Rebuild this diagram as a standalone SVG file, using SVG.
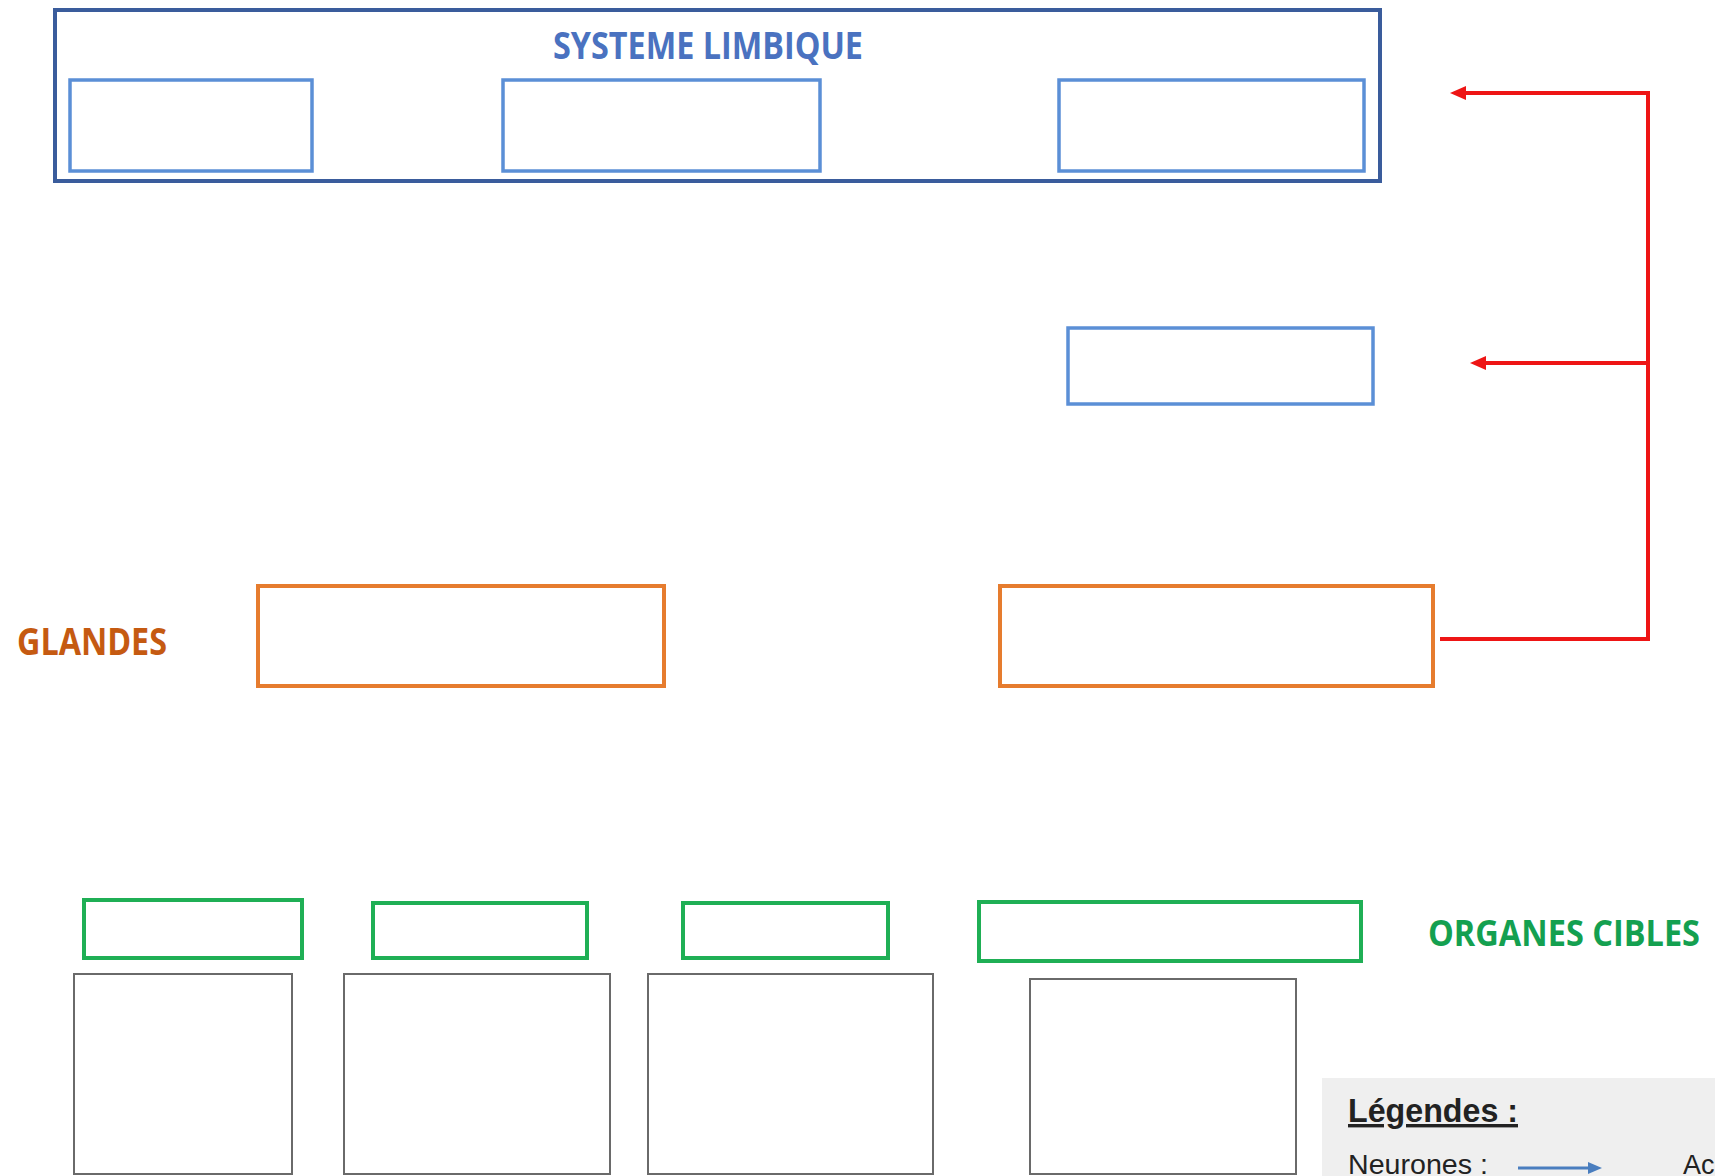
<svg xmlns="http://www.w3.org/2000/svg" width="1715" height="1176" viewBox="0 0 1715 1176">
<defs>
<style>
.outer{fill:none;stroke:#3A5C9C;stroke-width:4}
.blue{fill:none;stroke:#5B8FD6;stroke-width:3.5}
.orange{fill:none;stroke:#E67C2E;stroke-width:4}
.green{fill:none;stroke:#1FAF55;stroke-width:4}
.gray{fill:none;stroke:#6A6A6A;stroke-width:2}
.red{fill:none;stroke:#EE1515;stroke-width:4}
.title{font-family:"Open Sans","Liberation Sans",sans-serif;font-weight:bold}
.leg{font-family:"Liberation Sans",Arial,sans-serif;fill:#222}
</style>
<marker id="redHead" markerUnits="userSpaceOnUse" markerWidth="16" markerHeight="14" refX="0" refY="7" orient="auto" overflow="visible">
<path d="M0,0 L16,7 L0,14 Z" fill="#EE1515"/>
</marker>
<marker id="blueHead" markerUnits="userSpaceOnUse" markerWidth="14" markerHeight="12" refX="0" refY="6" orient="auto" overflow="visible">
<path d="M0,0 L14,6 L0,12 Z" fill="#4A7EBF"/>
</marker>
</defs>
<rect width="1715" height="1176" fill="#FFFFFF"/>

<g id="systeme-limbique">
<rect class="outer" x="55" y="10" width="1325" height="171"/>
<text class="title" x="708" y="59" font-size="38" fill="#4A72C0" text-anchor="middle" textLength="310" lengthAdjust="spacingAndGlyphs">SYSTEME LIMBIQUE</text>
</g>
<g id="limbique-1"><rect class="blue" x="70" y="80" width="242" height="91"/></g>
<g id="limbique-2"><rect class="blue" x="503" y="80" width="317" height="91"/></g>
<g id="limbique-3"><rect class="blue" x="1059" y="80" width="305" height="91"/></g>
<g id="middle-box"><rect class="blue" x="1068" y="328" width="305" height="76"/></g>

<g id="glandes-label"><text class="title" x="17" y="655" font-size="38" fill="#C55A11" textLength="150" lengthAdjust="spacingAndGlyphs">GLANDES</text></g>
<g id="glande-1"><rect class="orange" x="258" y="586" width="406" height="100"/></g>
<g id="glande-2"><rect class="orange" x="1000" y="586" width="433" height="100"/></g>

<g id="organes-label"><text class="title" x="1428" y="946" font-size="36" fill="#14A050" textLength="272" lengthAdjust="spacingAndGlyphs">ORGANES CIBLES</text></g>
<g id="organe-1"><rect class="green" x="84" y="900" width="218" height="58"/></g>
<g id="organe-2"><rect class="green" x="373" y="903" width="214" height="55"/></g>
<g id="organe-3"><rect class="green" x="683" y="903" width="205" height="55"/></g>
<g id="organe-4"><rect class="green" x="979" y="902" width="382" height="59"/></g>

<g id="case-1"><rect class="gray" x="74" y="974" width="218" height="200"/></g>
<g id="case-2"><rect class="gray" x="344" y="974" width="266" height="200"/></g>
<g id="case-3"><rect class="gray" x="648" y="974" width="285" height="200"/></g>
<g id="case-4"><rect class="gray" x="1030" y="979" width="266" height="195"/></g>

<g id="connectors">
<path class="red" d="M1440 639 H1648 V93 H1466" marker-end="url(#redHead)"/>
<path class="red" d="M1648 363 H1486" marker-end="url(#redHead)"/>
</g>

<g id="legende">
<rect x="1322" y="1078" width="400" height="110" fill="#EFEFEF"/>
<text class="leg" x="1348" y="1122" font-size="34" font-weight="bold" text-decoration="underline" textLength="170" lengthAdjust="spacingAndGlyphs">Légendes :</text>
<text class="leg" x="1348" y="1174" font-size="27" textLength="140" lengthAdjust="spacingAndGlyphs">Neurones :</text>
<line x1="1518" y1="1168" x2="1588" y2="1168" stroke="#4A7EBF" stroke-width="3" marker-end="url(#blueHead)"/>
<text class="leg" x="1683" y="1174" font-size="27">Ac</text>
</g>
</svg>
